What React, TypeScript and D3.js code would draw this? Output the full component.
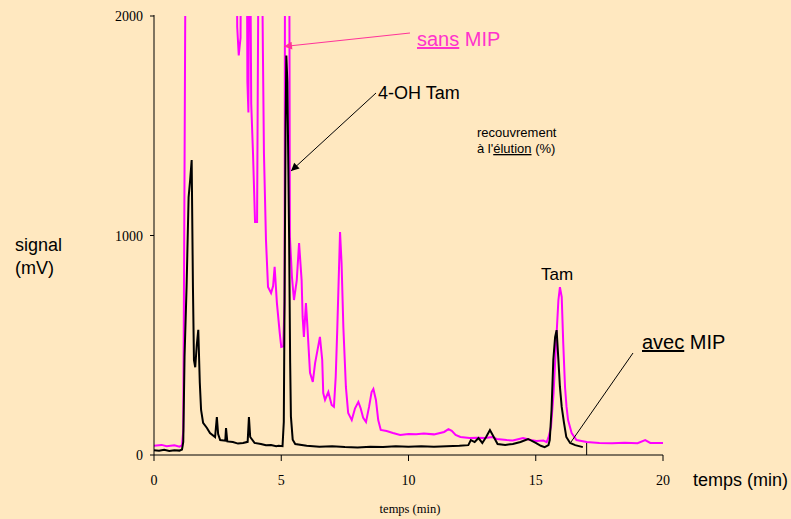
import React from 'react';
import * as d3 from 'd3';

// tick labels
const xTicks = [0, 5, 10, 15, 20];
const yTicks = [0, 1000, 2000];

// black trace: avec MIP  [time (min), signal (mV)]
const avecMip: [number, number][] = [
  [0, 22], [0.2, 19], [0.4, 24], [0.6, 18], [0.8, 22], [1.0, 20], [1.1, 25], [1.15, 60],
  [1.2, 446], [1.28, 765], [1.36, 1175], [1.42, 1253], [1.48, 1344], [1.53, 765], [1.57, 432],
  [1.62, 400], [1.68, 500], [1.74, 570], [1.8, 328], [1.85, 205], [1.93, 146], [2.08, 123],
  [2.2, 100], [2.4, 82], [2.47, 173], [2.52, 95], [2.6, 68], [2.8, 65], [2.83, 123], [2.88, 62],
  [3.1, 59], [3.3, 52], [3.5, 55], [3.68, 60], [3.73, 173], [3.78, 82], [3.95, 55], [4.2, 50],
  [4.4, 44], [4.6, 45], [4.8, 40], [4.9, 42], [5.05, 40], [5.1, 150], [5.13, 700], [5.17, 1500],
  [5.2, 1820], [5.24, 1700], [5.28, 1300], [5.31, 980], [5.35, 420], [5.38, 175], [5.45, 70],
  [5.55, 50], [6.0, 42], [6.5, 38], [7.0, 40], [7.5, 36], [8.0, 34], [8.5, 38], [9.0, 36],
  [9.5, 40], [10.0, 38], [10.5, 40], [11.0, 38], [11.5, 40], [12.0, 42], [12.35, 45],
  [12.45, 68], [12.6, 59], [12.75, 77], [12.9, 55], [13.05, 82], [13.2, 114], [13.35, 82],
  [13.5, 50], [13.8, 46], [14.1, 50], [14.4, 59], [14.7, 73], [15.0, 55], [15.2, 42],
  [15.35, 36], [15.5, 45], [15.55, 68], [15.62, 205], [15.69, 433], [15.76, 537], [15.82, 569],
  [15.89, 433], [15.95, 310], [16.02, 219], [16.11, 146], [16.2, 82], [16.35, 55], [16.55, 45],
  [16.85, 36],
];

// magenta trace: sans MIP  [time (min), signal (mV)] (values above 2000 are off scale)
const sansMip: [number, number][] = [
  [0, 42], [0.3, 46], [0.5, 40], [0.8, 44], [1.0, 38], [1.1, 44], [1.15, 110], [1.2, 1300],
  [1.25, 2600], [3.24, 2600], [3.27, 1950], [3.33, 1820], [3.4, 1900], [3.43, 2600],
  [3.64, 2600], [3.67, 1700], [3.71, 1560], [3.75, 2600], [3.77, 2600], [3.82, 1600],
  [3.89, 1375], [3.97, 1061], [4.05, 1061], [4.12, 2600], [4.22, 2600], [4.28, 1830],
  [4.32, 1375], [4.4, 980], [4.48, 765], [4.6, 738], [4.68, 770], [4.74, 857], [4.83, 692],
  [4.94, 556], [5.0, 492], [5.08, 495], [5.13, 700], [5.15, 2600], [5.31, 2600], [5.34, 993],
  [5.42, 811], [5.5, 706], [5.61, 797], [5.7, 966], [5.8, 797], [5.84, 629], [5.89, 538],
  [5.97, 692], [6.02, 601], [6.13, 374], [6.24, 333], [6.33, 419], [6.52, 538], [6.61, 433],
  [6.65, 282], [6.72, 251], [6.85, 287], [6.98, 228], [7.07, 220], [7.14, 356], [7.2, 569],
  [7.31, 1016], [7.37, 874], [7.44, 583], [7.54, 310], [7.63, 191], [7.77, 159], [7.9, 213],
  [8.03, 242], [8.12, 213], [8.22, 169], [8.33, 150], [8.45, 219], [8.55, 287], [8.62, 301],
  [8.72, 251], [8.81, 159], [8.91, 114], [9.14, 109], [9.39, 100], [9.67, 91], [10.0, 96],
  [10.3, 95], [10.6, 98], [11.0, 94], [11.4, 105], [11.57, 118], [11.7, 110], [11.85, 91],
  [12.04, 82], [12.4, 77], [12.7, 79], [13.0, 77], [13.3, 82], [13.46, 73], [13.86, 68],
  [14.1, 66], [14.5, 77], [14.8, 68], [15.03, 64], [15.3, 66], [15.43, 59], [15.5, 80],
  [15.6, 128], [15.7, 282], [15.8, 510], [15.89, 706], [15.95, 765], [16.02, 720], [16.08, 510],
  [16.15, 310], [16.21, 219], [16.27, 159], [16.41, 100], [16.6, 68], [17.0, 59], [17.5, 55],
  [18.0, 53], [18.5, 56], [19.0, 54], [19.3, 68], [19.5, 55], [20.0, 55],
];

const SANS = "'Liberation Sans', Arial, sans-serif";
const SERIF = "'Liberation Serif', 'Times New Roman', serif";

export default function App() {
  const width = 791;
  const height = 519;

  const x = d3.scaleLinear().domain([0, 20]).range([154, 663]);
  const y = d3.scaleLinear().domain([0, 2000]).range([455, 16]);

  const line = d3.line<[number, number]>()
    .x(d => x(d[0]))
    .y(d => y(d[1]));

  const [x0, x1] = x.range();
  const [y0, y1] = y.range();

  return (
    <svg width={width} height={height} style={{ position: 'absolute', left: 0, top: 0, display: 'block' }}>
      <defs>
        <clipPath id="plot">
          <rect x={x0} y={y1} width={x1 - x0} height={y0 - y1} />
        </clipPath>
        <marker id="arrBlack" viewBox="0 0 10 10" refX="10" refY="5" markerWidth="10" markerHeight="8"
          markerUnits="userSpaceOnUse" orient="auto">
          <path d="M0,0 L10,5 L0,10 z" fill="#000" />
        </marker>
        <marker id="arrPink" viewBox="0 0 10 10" refX="10" refY="5" markerWidth="9" markerHeight="8"
          markerUnits="userSpaceOnUse" orient="auto">
          <path d="M0,0 L10,5 L0,10 z" fill="#FF3399" />
        </marker>
      </defs>

      <rect x={0} y={0} width={width} height={height} fill="#FFE8C0" />

      {/* data */}
      <g clipPath="url(#plot)">
        <path d={line(sansMip) || ''} fill="none" stroke="#FF00FF" strokeWidth={2} />
        <path d={line(avecMip) || ''} fill="none" stroke="#000" strokeWidth={2} />
      </g>

      {/* axes */}
      <line x1={x0} x2={x0} y1={y1 - 1} y2={y0} stroke="#000" strokeWidth={1} />
      <line x1={x0} x2={x1} y1={y0} y2={y0} stroke="#000" strokeWidth={1} />
      {yTicks.map(t => (
        <g key={'y' + t}>
          <line x1={x0 - 4} x2={x0} y1={y(t)} y2={y(t)} stroke="#000" />
          <text x={x0 - 11} y={y(t) + 5} textAnchor="end" fontFamily={SERIF} fontSize={14} fill="#000">{t}</text>
        </g>
      ))}
      {xTicks.map(t => (
        <g key={'x' + t}>
          <line x1={x(t)} x2={x(t)} y1={y0} y2={y0 + 6} stroke="#000" />
          <text x={x(t)} y={485} textAnchor="middle" fontFamily={SERIF} fontSize={14} fill="#000">{t}</text>
        </g>
      ))}
      <line x1={x(17)} x2={x(17)} y1={y0 - 12} y2={y0} stroke="#000" />

      {/* axis titles */}
      <text x={410} y={513} textAnchor="middle" fontFamily={SERIF} fontSize={12.5} fill="#000">temps (min)</text>
      <text x={693} y={486} fontFamily={SANS} fontSize={18} fill="#000">temps (min)</text>
      <text fontFamily={SANS} fontSize={18} fill="#000">
        <tspan x={15} y={251}>signal</tspan>
        <tspan x={15} y={274}>(mV)</tspan>
      </text>

      {/* annotations */}
      <line x1={410} y1={33} x2={284} y2={46.5} stroke="#FF3399" strokeWidth={1.2} markerEnd="url(#arrPink)" />
      <text x={417} y={46} fontFamily={SANS} fontSize={20} fill="#FF33CC">
        <tspan style={{ textDecoration: 'underline' }}>sans</tspan> MIP
      </text>

      <line x1={376} y1={93} x2={291} y2={171} stroke="#000" strokeWidth={1} markerEnd="url(#arrBlack)" />
      <text x={378} y={99} fontFamily={SANS} fontSize={18} fill="#000">4-OH Tam</text>

      <text fontFamily={SANS} fontSize={13} fill="#000">
        <tspan x={477} y={137}>recouvrement</tspan>
        <tspan x={477} y={153}>à l'<tspan style={{ textDecoration: 'underline' }}>élution</tspan> (%)</tspan>
      </text>

      <text x={541} y={280} fontFamily={SANS} fontSize={17} fill="#000">Tam</text>

      <line x1={633} y1={353} x2={571} y2={442} stroke="#000" strokeWidth={1} />
      <text x={642} y={349} fontFamily={SANS} fontSize={20} fill="#000">
        <tspan style={{ textDecoration: 'underline' }}>avec</tspan> MIP
      </text>
    </svg>
  );
}
